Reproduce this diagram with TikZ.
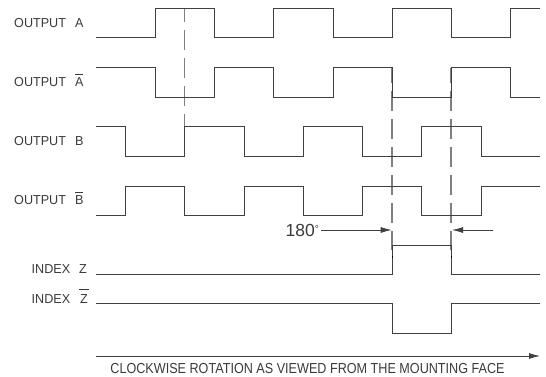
\documentclass[tikz,border=0pt]{standalone}
\usepackage{fontspec}
\setmainfont{Liberation Sans}
\newfontfamily\labfont[FakeStretch=0.97]{Liberation Sans}
\newfontfamily\capfont[FakeStretch=0.87]{Liberation Sans}
\usetikzlibrary{arrows.meta}
\definecolor{wire}{HTML}{404040}
\definecolor{ghost}{HTML}{808080}
\definecolor{ink}{HTML}{3A3A3A}
\tikzset{
  signal/.style={draw=wire,line width=0.9pt,line join=miter},
  guide/.style={draw=ghost,line width=1.1pt},
  guidea/.style={guide,dash pattern=on 19.5pt off 8.5pt,dash phase=6pt},
  guideb/.style={guide,dash pattern=on 19.5pt off 8.5pt,dash phase=4.5pt},
  dim/.style={draw=wire,line width=0.8pt,-{Latex[length=11pt,width=6pt]}},
  lab/.style={text=ink,font=\labfont\fontsize{13}{15}\selectfont,inner sep=0pt,anchor=base west},
  caption/.style={text=ink,font=\capfont\fontsize{14.5}{16}\selectfont,inner sep=0pt,anchor=base},
  degree/.style={text=ink,font=\fontsize{17.5}{19}\selectfont,inner sep=0pt,anchor=base west},
  tick/.style={draw=black,line width=1pt}
}
\newcommand{\barred}[3]{$\overline{\mbox{\rule{0pt}{#1}\kern#2 #3\kern#2}}$}
\begin{document}
\begin{tikzpicture}[x=1pt,y=-1pt]
\useasboundingbox (0,0) rectangle (546,376);
% guides
\draw[guidea] (184.5,8) -- (184.5,126.5);
\draw[guideb] (392,67.5) -- (392,250);
\draw[guideb] (451,67.5) -- (451,250);
% waveforms
\draw[signal] (96,37.5) -- (155,37.5) |- (214,8) |- (273,37.5) |- (333,8) |- (392,37.5) |- (451,8) |- (510.5,37.5) |- (540,8);
\draw[signal] (96,67.5) -- (155,67.5) |- (214,97) |- (273,67.5) |- (333,97) |- (392,67.5) |- (451,97) |- (510.5,67.5) |- (540,97);
\draw[signal] (96,126.5) -- (125.5,126.5) |- (184.5,156) |- (244,126.5) |- (303.5,156) |- (362.5,126.5) |- (421.5,156) |- (481,126.5) |- (540,156);
\draw[signal] (96,215.5) -- (125.5,215.5) |- (184.5,186) |- (244,215.5) |- (303.5,186) |- (362.5,215.5) |- (421.5,186) |- (481,215.5) |- (540,186);
\draw[signal] (96,274.7) -- (392,274.7) |- (451,245) |- (540,274.7);
\draw[signal] (96,303.7) -- (392,303.7) |- (451,333.3) |- (540,303.7);
\draw[tick] (392,255.5) -- (392,257.5);
\draw[tick] (451,255.5) -- (451,257.5);
% labels
\node[lab] (la) at (14,27.3) {OUTPUT\hspace{9pt}A};
\node[lab] (lab) at (14,86) {OUTPUT\hspace{9pt}\barred{10.8pt}{0pt}{A}};
\node[lab] (lb) at (14,145.7) {OUTPUT\hspace{9pt}B};
\node[lab] (lbb) at (14,204.7) {OUTPUT\hspace{9pt}\barred{10.8pt}{0pt}{B}};
\node[lab] (lz) at (31.5,273) {INDEX\hspace{9pt}Z};
\node[lab] (lzb) at (31.5,303.7) {INDEX\hspace{9pt}\barred{13pt}{0.8pt}{Z}};
\node[degree] (deg) at (285.5,236) {180\raisebox{3.5pt}{\fontsize{10}{10}\selectfont °}};
\coordinate (ds) at (321,230);
\coordinate (ra) at (391.7,230);
\coordinate (rb) at (452,230);
\coordinate (rc) at (493,230);
\draw[dim] (ds) -- (ra);
\draw[dim] (rc) -- (rb);
\coordinate (ax0) at (96,356);
\coordinate (ax1) at (540,356);
\draw[dim] (ax0) -- (ax1);
\node[caption] (cap) at (307.5,373.5) {CLOCKWISE ROTATION AS VIEWED FROM THE MOUNTING FACE};
\end{tikzpicture}
\end{document}
